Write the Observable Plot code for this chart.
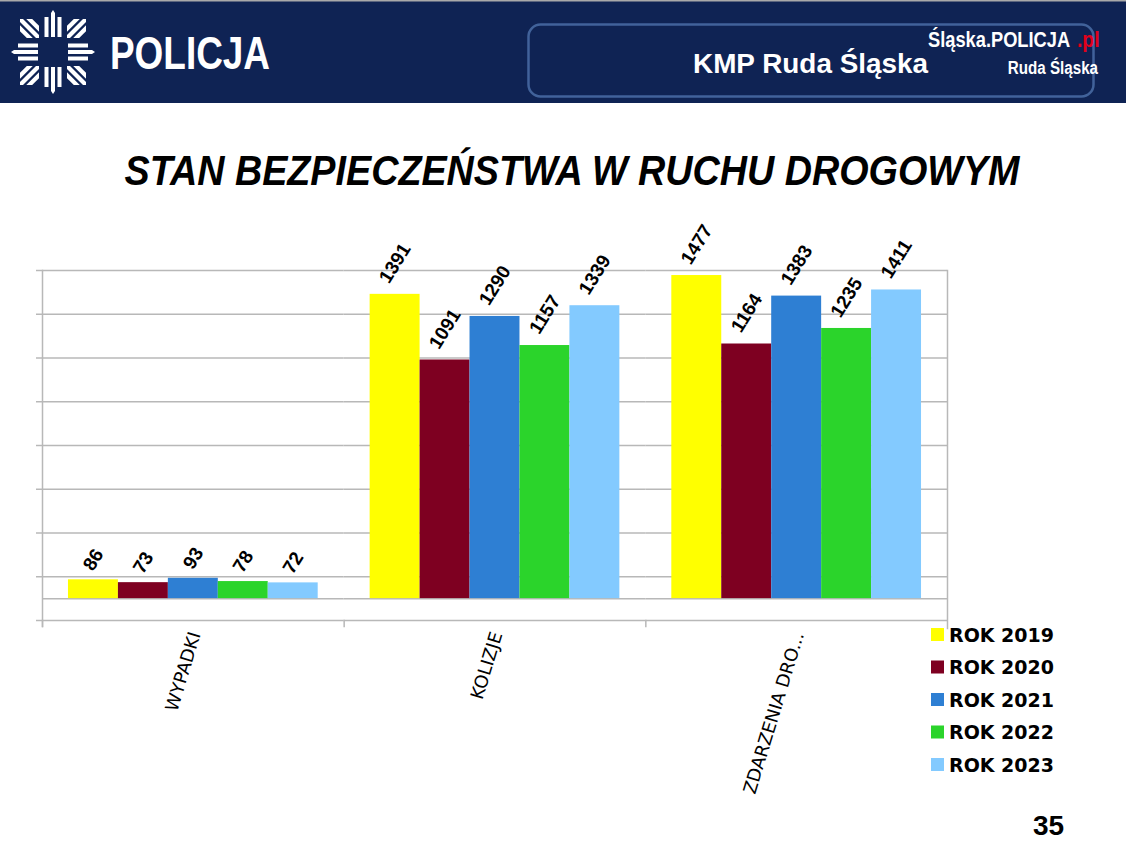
<!DOCTYPE html>
<html>
<head>
<meta charset="utf-8">
<script src="https://cdn.jsdelivr.net/npm/d3@7"></script>
<script src="https://cdn.jsdelivr.net/npm/@observablehq/plot@0.6"></script>
<style>
  html, body { margin: 0; padding: 0; width: 1126px; height: 845px; overflow: hidden; background: #fff; }
  .abs { position: absolute; display: block; }
</style>
</head>
<body>
<!-- header -->
<svg class="abs" style="left:0;top:0" width="1126" height="103" viewBox="0 0 1126 103">
  <defs>
    <clipPath id="cornerClip"><rect x="-33" y="-33" width="19" height="19"/></clipPath>
  </defs>
  <rect x="0" y="0" width="1126" height="103" fill="#0f2354"/>
  <rect x="0" y="0" width="1126" height="1.5" fill="#a9a9a9"/>
  <g transform="translate(53,52)" fill="#fff">
    <g id="arm">
      <polygon points="-2,-15 2,-15 2,-39 0,-42 -2,-39"/>
      <rect x="-8.5" y="-35" width="4" height="20"/>
      <rect x="4.5" y="-35" width="4" height="20"/>
    </g>
    <use href="#arm" transform="rotate(90)"/>
    <use href="#arm" transform="rotate(180)"/>
    <use href="#arm" transform="rotate(270)"/>
    <g id="corner" clip-path="url(#cornerClip)" stroke="#fff" stroke-width="4.2">
      <line x1="0" y1="0" x2="-50" y2="-50"/>
      <line x1="4.6" y1="-4.6" x2="-45.4" y2="-54.6"/>
      <line x1="-4.6" y1="4.6" x2="-54.6" y2="-45.4"/>
    </g>
    <use href="#corner" transform="rotate(90)"/>
    <use href="#corner" transform="rotate(180)"/>
    <use href="#corner" transform="rotate(270)"/>
  </g>
  <text x="110" y="69" fill="#fff" font-family="'Liberation Sans Narrow','Liberation Sans',Arial,sans-serif" font-weight="bold" font-size="46" textLength="160" lengthAdjust="spacingAndGlyphs">POLICJA</text>
  <rect x="528.5" y="24.5" width="565" height="72" rx="12" ry="12" fill="none" stroke="#41629a" stroke-width="2.5"/>
  <text x="693" y="73" fill="#fff" font-family="'Liberation Sans',Arial,sans-serif" font-weight="bold" font-size="27.5" textLength="235" lengthAdjust="spacingAndGlyphs">KMP Ruda Śląska</text>
  <text transform="translate(928,47) scale(0.85,1)" x="0" y="0" fill="#fff" font-family="'Liberation Sans',Arial,sans-serif" font-weight="bold" font-size="21.5">Śląska.POLICJA</text>
  <text transform="translate(1077,47) scale(0.9,1)" x="0" y="0" fill="#e3001b" font-family="'Liberation Sans',Arial,sans-serif" font-weight="bold" font-size="21.5">.pl</text>
  <text transform="translate(1098,74) scale(0.82,1)" x="0" y="0" fill="#fff" text-anchor="end" font-family="'Liberation Sans',Arial,sans-serif" font-weight="bold" font-size="18.5">Ruda Śląska</text>
</svg>

<!-- title -->
<svg class="abs" style="left:0;top:130px" width="1126" height="70" viewBox="0 0 1126 70">
  <text x="572" y="55" text-anchor="middle" fill="#000" font-family="'Liberation Sans',Arial,sans-serif" font-weight="bold" font-style="italic" font-size="42" textLength="895" lengthAdjust="spacingAndGlyphs">STAN BEZPIECZEŃSTWA W RUCHU DROGOWYM</text>
</svg>

<div id="chart" class="abs" style="left:0;top:200px;width:1126px;height:630px"></div>
<svg id="legend" class="abs" style="left:925px;top:620px" width="200" height="160"></svg>
<svg class="abs" style="left:1020px;top:800px" width="100" height="45" viewBox="0 0 100 45">
  <text x="13" y="35" fill="#000" font-family="'Liberation Sans',Arial,sans-serif" font-weight="bold" font-size="28">35</text>
</svg>

<script>
// ---- data ----
const categories = ["WYPADKI", "KOLIZJE", "ZDARZENIA DRO..."];
const years = ["ROK 2019", "ROK 2020", "ROK 2021", "ROK 2022", "ROK 2023"];
const v2019 = [86, 1391, 1477];
const v2020 = [73, 1091, 1164];
const v2021 = [93, 1290, 1383];
const v2022 = [78, 1157, 1235];
const v2023 = [72, 1339, 1411];
const colors = ["#ffff00", "#7e0021", "#2e7fd3", "#2bd42b", "#83caff"];
const gridTicks = [100, 300, 500, 700, 900, 1100, 1300, 1500];
const baseLine = 0;
const floorLine = -100;

const series = [v2019, v2020, v2021, v2022, v2023];
const data = categories.flatMap((c, i) =>
  years.map((y, j) => ({category: c, year: y, value: series[j][i]}))
);

const grid = "#b8b8b8";
const labelFont = {fontFamily: "Liberation Sans", fontWeight: "bold", fontSize: 19, fill: "#000", rotate: -58};

const chart = Plot.plot({
  width: 1126,
  height: 630,
  marginLeft: 42,
  marginRight: 179,
  marginTop: 70,
  marginBottom: 210,
  style: {background: "transparent", overflow: "visible"},
  fx: {domain: categories, padding: 0, round: false, axis: null},
  x: {domain: years, paddingInner: 0, paddingOuter: 0.52, round: false, axis: null},
  y: {domain: [floorLine, 1500], axis: null},
  color: {domain: years, range: colors},
  marks: [
    Plot.ruleY(gridTicks.concat([baseLine, floorLine]), {stroke: grid, strokeWidth: 1.5}),
    Plot.axisY({ticks: gridTicks.concat([floorLine]), tickSize: 6, tickFormat: () => "", label: null, stroke: grid, strokeWidth: 1.5}),
    Plot.frame({anchor: "left", facetAnchor: "left", insetBottom: -6, stroke: grid, strokeWidth: 1.5}),
    Plot.frame({anchor: "right", facetAnchor: "right", insetBottom: -8, stroke: grid, strokeWidth: 1.5}),
    Plot.frame({anchor: "left", insetTop: 350, insetBottom: -6, stroke: grid, strokeWidth: 1.5}),
    Plot.barY(data, {fx: "category", x: "year", y1: baseLine, y2: "value", fill: "year"}),
    Plot.text(data, {filter: d => d.value < 100, fx: "category", x: "year", y: "value", text: d => String(d.value), dy: -20, ...labelFont}),
    Plot.text(data, {filter: d => d.value >= 100, fx: "category", x: "year", y: "value", text: d => String(d.value), dy: -31, ...labelFont}),
    Plot.text(categories, {fx: d => d, text: d => d, frameAnchor: "bottom", lineAnchor: "middle", textAnchor: "end", rotate: -73, dy: 12, dx: 2, fontSize: 18, fontFamily: "DejaVu Sans", fill: "#000"})
  ]
});
document.getElementById("chart").appendChild(chart);

// ---- legend ----
const lg = d3.select("#legend");
years.forEach((y, i) => {
  lg.append("rect").attr("x", 6).attr("y", 8 + i * 32.5).attr("width", 13).attr("height", 13).attr("fill", colors[i]);
  lg.append("text").attr("x", 24).attr("y", 21.5 + i * 32.5)
    .attr("font-family", "DejaVu Sans").attr("font-weight", "bold").attr("font-size", 19)
    .attr("fill", "#000").text(y);
});
</script>
</body>
</html>
